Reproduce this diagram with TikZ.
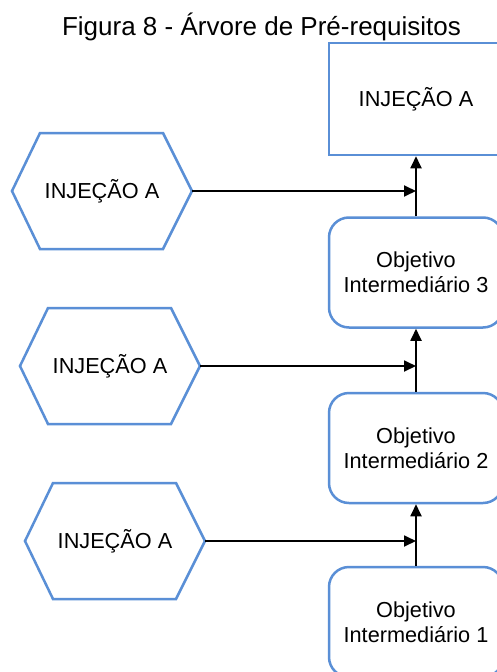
\documentclass[tikz,border=0pt]{standalone}
\usepackage{fontspec}
\setmainfont{Liberation Sans}
\usetikzlibrary{arrows.meta}
\definecolor{outline}{HTML}{5A8FD6}
\begin{document}
\begin{tikzpicture}[x=1pt,y=-1pt,
  boxtext/.style={font=\fontsize{21.7}{25}\selectfont, align=center, text=black},
  goalbox/.style={boxtext, draw=outline, line width=2.5pt, rounded corners=20pt,
    minimum width=174pt, minimum height=110pt, inner sep=0pt},
  injbox/.style={boxtext, draw=outline, line width=2.5pt,
    minimum width=174pt, minimum height=112pt, inner sep=0pt},
  hexline/.style={draw=outline, line width=2.5pt, line join=miter},
  link/.style={black, line width=1.8pt, -{Triangle[length=12pt,width=11pt]}}]

% page frame
\useasboundingbox (0,0) rectangle (496,672);
\fill[white] (0,0) rectangle (496,672);

% caption
\node[anchor=base, font=\fontsize{26}{30}\selectfont] (title) at (261.5,35)
  {Figura 8 - Árvore de Pré-requisitos};

% objective chain
\node[injbox]  (goal) at (416,99)    {INJEÇÃO A};
\node[goalbox] (obj3) at (416,272.5) {Objetivo\\Intermediário 3};
\node[goalbox] (obj2) at (416,448)   {Objetivo\\Intermediário 2};
\node[goalbox] (obj1) at (416,622)   {Objetivo\\Intermediário 1};

% injection hexagons (left vertex x, centre y)
\foreach \n/\L/\y in {1/12/191, 2/20/366, 3/25/541} {
  \draw[hexline] (\L,\y) -- ++(28,-58) -- ++(123,0) -- ++(29,58)
    -- ++(-29,58) -- ++(-123,0) -- cycle;
  \node[boxtext] (inj\n) at (\L+90,\y) {INJEÇÃO A};
  \coordinate (injr\n) at (\L+180,\y);
}

% vertical links
\draw[link] (obj1.north) -- (obj2.south);
\draw[link] (obj2.north) -- (obj3.south);
\draw[link] (obj3.north) -- (goal.south);

% horizontal links into the chain
\draw[link] (injr1) -- (injr1 -| goal.south);
\draw[link] (injr2) -- (injr2 -| goal.south);
\draw[link] (injr3) -- (injr3 -| goal.south);
\end{tikzpicture}
\end{document}
